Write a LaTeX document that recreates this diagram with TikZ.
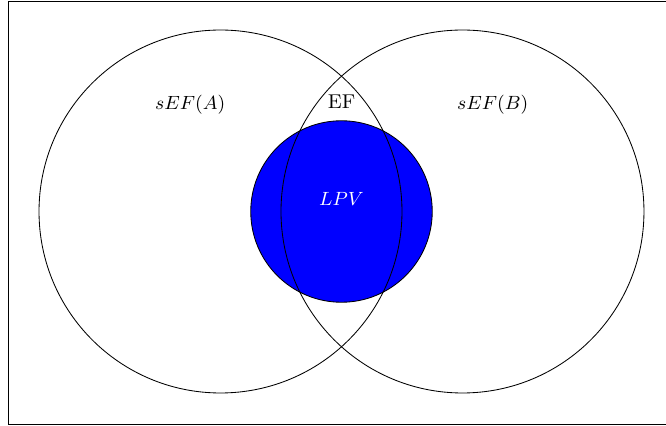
\documentclass[tikz,border=0pt]{standalone}
\usepackage{tikz}
\usetikzlibrary{positioning}

\begin{document}
\begin{tikzpicture}[
    bigset/.style={draw,circle,minimum size=6cm,inner sep=0pt},
    lpvset/.style={draw,circle,fill=blue,minimum size=3cm,inner sep=0pt},
    lbl/.style={inner sep=1pt,font=\fontsize{9.4pt}{11pt}\selectfont}
  ]
    \useasboundingbox (-5.645,-3.545) rectangle (5.364,3.496);
    \draw (-5.51,-3.52) rectangle (5.6,3.48);
    \node[lpvset] (lpv) at (0,0) {};
    \node[bigset] (setA) at (-2,0) {};
    \node[bigset] (setB) at (2,0) {};
    \node[lbl] (labA) at (-2.5,1.77) {$sEF(A)$};
    \node[lbl] (labB) at (2.5,1.77) {$sEF(B)$};
    \node[lbl] (labEF) at (0,1.81) {EF};
    \node[lbl,text=white] (labLPV) at (0,0.21) {$LPV$};
  \end{tikzpicture}
\end{document}
